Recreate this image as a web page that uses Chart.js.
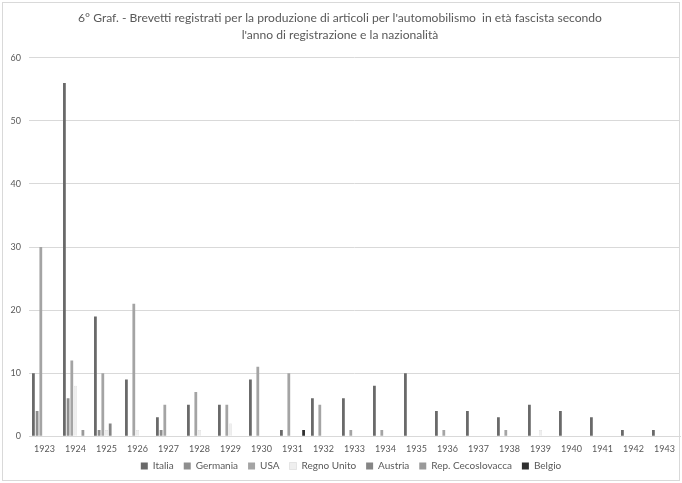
<!DOCTYPE html>
<html>
<head>
<meta charset="utf-8">
<script src="https://cdn.jsdelivr.net/npm/chart.js@4/dist/chart.umd.min.js"></script>
<style>
  html, body { margin: 0; padding: 0; background: #ffffff; }
  #wrap { position: relative; width: 682px; height: 483px; }
</style>
</head>
<body>
<div id="wrap"><canvas id="c" width="682" height="483"></canvas></div>
<script>
// Anni di registrazione
const years = ['1923','1924','1925','1926','1927','1928','1929','1930','1931','1932','1933',
               '1934','1935','1936','1937','1938','1939','1940','1941','1942','1943'];

// Brevetti per nazionalità
const italia      = [10, 56, 19, 9, 3, 5, 5, 9, 1, 6, 6, 8, 10, 4, 4, 3, 5, 4, 3, 1, 1];
const germania    = [4, 6, 1, 0, 1, 0, 0, 0, 0, 0, 0, 0, 0, 0, 0, 0, 0, 0, 0, 0, 0];
const usa         = [30, 12, 10, 21, 5, 7, 5, 11, 10, 5, 1, 1, 0, 1, 0, 1, 0, 0, 0, 0, 0];
const regnoUnito  = [0, 8, 1, 1, 0, 1, 2, 0, 0, 0, 0, 0, 0, 0, 0, 0, 1, 0, 0, 0, 0];
const austria     = [0, 0, 2, 0, 0, 0, 0, 0, 0, 0, 0, 0, 0, 0, 0, 0, 0, 0, 0, 0, 0];
const cecoslovacca= [0, 1, 0, 0, 0, 0, 0, 0, 0, 0, 0, 0, 0, 0, 0, 0, 0, 0, 0, 0, 0];
const belgio      = [0, 0, 0, 0, 0, 0, 0, 0, 1, 0, 0, 0, 0, 0, 0, 0, 0, 0, 0, 0, 0];

// Tacche dell'asse verticale
const yTicks = [0, 10, 20, 30, 40, 50, 60];

const titleLines = [
  "6° Graf. - Brevetti registrati per la produzione di articoli per l'automobilismo  in età fascista secondo",
  "l'anno di registrazione e la nazionalità"
];

const textColor = '#595959';
const gridColor = '#d9d9d9';
const fontFamily = 'Lato, "Open Sans", sans-serif';

function ds(label, data, color, border) {
  return {
    label: label,
    data: data,
    backgroundColor: color,
    borderColor: border || color,
    borderWidth: border ? 0.5 : 0,
    categoryPercentage: 0.835,
    barPercentage: 0.75
  };
}

// Cornice sottile attorno all'area del grafico
const frame = {
  id: 'frame',
  afterDraw(chart) {
    const ctx = chart.ctx;
    ctx.save();
    ctx.strokeStyle = gridColor;
    ctx.lineWidth = 1;
    ctx.strokeRect(2.5, 2.5, chart.width - 5, chart.height - 5);
    ctx.restore();
  }
};

// Sposta la legenda leggermente a destra e in alto
const legendShift = {
  id: 'legendShift',
  afterLayout(chart) {
    const lg = chart.legend;
    if (!lg) return;
    const dx = 11, dy = -10;
    lg.left += dx; lg.right += dx;
    lg.top += dy; lg.bottom += dy;
  }
};

new Chart(document.getElementById('c'), {
  type: 'bar',
  data: {
    labels: years,
    datasets: [
      ds('Italia', italia, '#696969'),
      ds('Germania', germania, '#8e8e8e'),
      ds('USA', usa, '#a4a4a4'),
      ds('Regno Unito', regnoUnito, '#efefef', '#d0d0d0'),
      ds('Austria', austria, '#858585'),
      ds('Rep. Cecoslovacca', cecoslovacca, '#999999'),
      ds('Belgio', belgio, '#2f2f2f')
    ]
  },
  options: {
    responsive: false,
    animation: false,
    devicePixelRatio: 1,
    layout: { padding: { left: 0, right: 2, top: 4, bottom: -8 } },
    plugins: {
      title: {
        display: true,
        text: titleLines,
        color: textColor,
        font: { family: fontFamily, size: 12.1, weight: 'normal', lineHeight: 1.4 },
        padding: { top: 6, bottom: 14 }
      },
      legend: {
        position: 'bottom',
        labels: {
          boxWidth: 7,
          boxHeight: 7,
          color: textColor,
          padding: 10,
          font: { family: fontFamily, size: 10 }
        }
      },
      tooltip: { enabled: false }
    },
    scales: {
      x: {
        grid: { display: false, drawTicks: false, tickLength: 0 },
        border: { display: true, color: gridColor },
        ticks: {
          color: textColor,
          font: { family: fontFamily, size: 9 },
          maxRotation: 0,
          autoSkip: false,
          padding: 7
        }
      },
      y: {
        min: yTicks[0],
        max: yTicks[yTicks.length - 1],
        afterFit(scale) { scale.width = 29; },
        afterBuildTicks(scale) { scale.ticks = yTicks.map(v => ({ value: v })); },
        grid: { color: gridColor, drawTicks: false },
        border: { display: false },
        ticks: {
          color: textColor,
          font: { family: fontFamily, size: 9 },
          padding: 8
        }
      }
    }
  },
  plugins: [frame, legendShift]
});
</script>
</body>
</html>
